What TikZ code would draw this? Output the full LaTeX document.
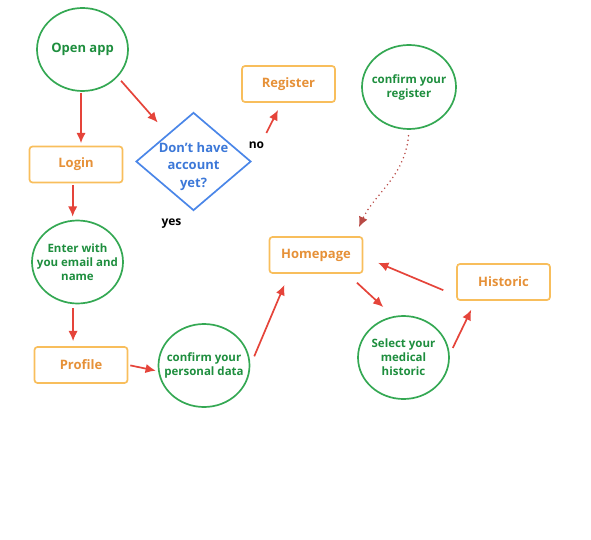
\documentclass[tikz,border=0pt]{standalone}
\usepackage{fontspec}
\setmainfont{Open Sans}
\usetikzlibrary{arrows.meta, shapes.geometric}
\definecolor{grn}{HTML}{34A853}
\definecolor{grntxt}{HTML}{1E8E3E}
\definecolor{org}{HTML}{F8BE5C}
\definecolor{orgtxt}{HTML}{E69138}
\definecolor{blu}{HTML}{4A86E8}
\definecolor{blutxt}{HTML}{3C78D8}
\definecolor{redarr}{HTML}{E5443A}
\definecolor{reddot}{HTML}{B84A45}

\begin{document}
\begin{tikzpicture}[x=1pt, y=-1pt, font=\bfseries, >={Latex[length=3.6mm, width=3.3mm]},
  st/.style={draw=grn, line width=1.7pt, ellipse, minimum width=91pt, minimum height=83pt,
    inner sep=0pt, label={[text=grntxt, align=center,
    font=\bfseries\fontsize{11.5}{14}\selectfont]center:#1}},
  pg/.style={draw=org, line width=1.7pt, rounded corners=3pt, minimum width=93pt,
    minimum height=36pt, text=orgtxt, font=\bfseries\fontsize{13}{15}\selectfont},
  ask/.style={diamond, draw=blu, line width=1.7pt, minimum width=115pt, minimum height=98pt,
    inner sep=0pt, label={[text=blutxt, align=center, yshift=-5pt,
    font=\bfseries\fontsize{13}{17.5}\selectfont]center:#1}},
  lbl/.style={font=\bfseries\fontsize{12}{14}\selectfont},
  go/.style={->, draw=redarr, line width=1.7pt}]
  \useasboundingbox (0,0) rectangle (591,540);
  \node[st={\fontsize{13}{15}\selectfont Open app}] (open) at (82.5,49.5) {};
  \node[pg] (login) at (76,164.5) {Login};
  \node[ask={Don't have\\account\\yet?}] (acct) at (193.5,161.5) {};
  \node[pg] (reg) at (288.5,84) {Register};
  \node[st={confirm your\\register}, minimum width=94pt, minimum height=84pt] (creg) at (409,87) {};
  \node[st={Enter with\\you email and\\name}] (enter) at (77.5,262) {};
  \node[pg] (profile) at (81,365) {Profile};
  \node[st={confirm your\\personal data}] (pers) at (204,365.5) {};
  \node[pg] (home) at (316,255) {Homepage};
  \node[st={Select your\\medical\\historic}] (sel) at (403.5,357.5) {};
  \node[pg] (hist) at (503.5,282) {Historic};
  \node[lbl] (no) at (256.5,145) {no};
  \node[lbl] (yes) at (171.5,224) {yes};
  \draw[go, shorten <=1pt, shorten >=2.5pt] (open.-92) -- (open.-92 |- login.north);
  \draw[go, shorten <=5pt, shorten >=15pt] (open.-38) -- (acct.133);
  \draw[go, shorten <=1.5pt, shorten >=3pt] (login.-100) -- (login.-100 |- enter.north);
  \draw[go, shorten <=32pt, shorten >=8pt] (acct.east) -- (reg.-110);
  \draw[go, shorten <=4pt, shorten >=5pt] (enter.-96) -- (enter.-96 |- profile.north);
  \draw[go, shorten <=2pt, shorten >=2.3pt] (profile.east) -- (pers.-173);
  \draw[go, shorten <=10pt, shorten >=12pt] (pers.east) -- (home.-145.5);
  \draw[->, draw=reddot, line width=1.7pt, line cap=round, dash pattern=on 0pt off 4.5pt,
    shorten <=6pt, shorten >=10pt] (creg.south) to[out=-95, in=65] (home.26);
  \draw[go, shorten <=13pt, shorten >=13.5pt] (home.-31.6) -- (sel.104.7);
  \draw[go, shorten <=7pt, shorten >=10pt] (sel.4.2) -- (hist.-146.2);
  \draw[go, shorten <=14pt, shorten >=16pt] (hist.-164) -- (home.-2.3);
\end{tikzpicture}
\end{document}
